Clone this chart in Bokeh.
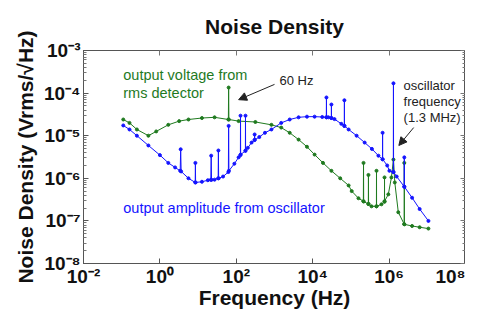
from bokeh.plotting import figure
from bokeh.models import (FixedTicker, LogAxis, Label, Arrow, NormalHead, Range1d)
from bokeh.embed import file_html
from bokeh.resources import INLINE

# ---------------- data ----------------
blue_freq = [0.11, 0.16, 0.25, 0.5, 1.0, 1.66, 2.5, 3.4, 3.5, 3.6, 5.6, 8.4, 8.5, 8.6,
             12.6, 18, 21.5, 22, 22.5, 27, 33.5, 34, 34.5, 45, 62, 63, 64, 89, 115,
             128, 129, 130, 173, 174, 175, 200, 251, 300, 302, 304, 400, 562, 832,
             1500, 2500, 4270, 7080, 11200, 17800, 22700, 22900, 23100, 25700,
             30700, 30900, 31100, 37200, 56200, 67400, 67600, 67800, 87100, 141000,
             229000, 355000, 525000, 674000, 676000, 678000, 891000, 1.02e6, 1.29e6,
             1.3e6, 1.31e6, 1.58e6, 2.48e6, 2.5e6, 2.52e6, 4.0e6, 6.3e6, 1.07e7]
blue_val = [1.74e-5, 1.4e-5, 1.0e-5, 5.9e-6, 3.5e-6, 2.3e-6, 1.8e-6, 1.5e-6, 4.8e-6, 1.45e-6,
            1.0e-6, 8.0e-7, 2.3e-6, 8.0e-7, 8.3e-7, 9.0e-7, 9.2e-7, 3.4e-6, 9.2e-7, 9.3e-7,
            1.0e-6, 4.5e-6, 1.0e-6, 1.1e-6, 1.4e-6, 1.7e-5, 1.5e-6, 2.2e-6, 3.1e-6,
            3.5e-6, 2.95e-5, 3.6e-6, 4.4e-6, 2.95e-5, 4.5e-6, 5.2e-6, 6.9e-6, 7.9e-6,
            1.07e-5, 8.0e-6, 9.3e-6, 1.17e-5, 1.4e-5, 2.0e-5, 2.4e-5, 2.7e-5, 2.8e-5,
            2.8e-5, 2.75e-5, 2.7e-5, 7.9e-5, 2.7e-5, 2.7e-5, 2.6e-5, 5.4e-5, 2.6e-5,
            2.45e-5, 1.9e-5, 1.7e-5, 6.8e-5, 1.7e-5, 1.4e-5, 1.0e-5, 6.9e-6, 4.9e-6,
            3.4e-6, 2.8e-6, 1.17e-5, 2.8e-6, 2.0e-6, 1.5e-6, 1.4e-6, 1.7e-4, 1.4e-6,
            1.1e-6, 6.4e-7, 3.1e-6, 6.3e-7, 3.5e-7, 1.9e-7, 1.0e-7]

green_freq = [0.11, 0.16, 0.25, 0.5, 0.8, 1.66, 3.2, 5.6, 12.6, 27, 62, 63, 64, 115, 316,
              832, 1500, 2500, 4270, 7080, 11200, 18600, 30900, 52500, 87100, 105000,
              158000, 212000, 214000, 216000, 286000, 288000, 290000, 347000, 466000,
              468000, 470000, 631000, 757000, 759000, 761000, 955000, 1.15e6, 1.3e6,
              1.41e6, 1.74e6, 2.48e6, 2.5e6, 2.52e6, 4.0e6, 6.3e6, 1.07e7]
green_val = [2.4e-5, 2.0e-5, 1.4e-5, 1.0e-5, 1.26e-5, 1.8e-5, 2.2e-5, 2.4e-5, 2.6e-5, 2.7e-5,
             2.4e-5, 1.35e-4, 2.4e-5, 2.2e-5, 2.1e-5, 1.8e-5, 1.55e-5, 1.17e-5, 8.1e-6,
             5.5e-6, 3.6e-6, 2.3e-6, 1.5e-6, 1.0e-6, 6.8e-7, 5.0e-7, 3.4e-7, 2.9e-7,
             2.3e-6, 2.85e-7, 2.5e-7, 1.2e-6, 2.5e-7, 2.2e-7, 2.2e-7, 1.5e-6, 2.2e-7,
             2.45e-7, 2.8e-7, 1.05e-6, 2.9e-7, 4.2e-7, 1.05e-6, 2.75e-6, 8.0e-7, 1.6e-7,
             8.4e-8, 2.3e-6, 8.3e-8, 7.6e-8, 7.1e-8, 6.6e-8]

x_tick_exps = [-2, 0, 2, 4, 6, 8]
y_tick_exps = [-8, -7, -6, -5, -4, -3]

title_text = "Noise Density"
x_label = "Frequency (Hz)"
y_label = "Noise Density (Vrms/\u221aHz)"
green_note = ["output voltage from", "rms detector"]
blue_note = "output amplitude from oscillator"
hz60_note = "60 Hz"
osc_note = ["oscillator", "frequency", "(1.3 MHz)"]

# annotation anchor points (frequency, density)
green_note_pos = [(0.11, 2.6e-4), (0.11, 1.02e-4)]
blue_note_pos = (0.11, 2.05e-7)
hz60_note_pos = (1350, 2.0e-4)
osc_note_pos = [(2.4e6, 1.5e-4), (2.4e6, 6.3e-5), (2.4e6, 2.7e-5)]
hz60_arrow = ((1000, 1.6e-4), (115, 7.0e-5))
osc_arrow = ((4.4e6, 1.55e-5), (1.8e6, 5.9e-6))

GREEN = "#1f7a1f"
BLUE = "#1414ff"
FONT = "Liberation Sans"
INK = "#111111"
AXC = "#555555"

SUP = str.maketrans("-0123456789", "\u207b\u2070\u00b9\u00b2\u00b3\u2074\u2075\u2076\u2077\u2078\u2079")

def pow_label(e):
    return "10" + str(e).translate(SUP)

# ---------------- figure ----------------
p = figure(width=465, height=311, x_axis_type="log", y_axis_type="log",
           x_range=Range1d(1e-2, 1e8), y_range=Range1d(1e-8, 1e-3),
           output_backend="svg", toolbar_location=None,
           min_border_left=0, min_border_right=0, min_border_top=0,
           min_border_bottom=0, background_fill_color="white",
           border_fill_color="white", outline_line_color=AXC)

p.title.text = title_text
p.title.align = "center"
p.title.text_font = FONT
p.title.text_font_size = "21px"
p.title.text_font_style = "bold"
p.title.text_color = INK
p.title.standoff = 25

p.xgrid.visible = False
p.ygrid.visible = False

xt_major = [10.0 ** e for e in x_tick_exps]
yt_major = [10.0 ** e for e in y_tick_exps]
yt_minor = [k * 10.0 ** e for e in y_tick_exps[:-1] for k in range(2, 10)]

def base_style(ax):
    ax.major_tick_out = 0
    ax.minor_tick_out = 0
    ax.axis_line_color = AXC
    ax.major_tick_line_color = AXC
    ax.minor_tick_line_color = "#777777"

def labelled_axis(ax, ticks, minor, exps, standoff):
    base_style(ax)
    ax.ticker = FixedTicker(ticks=ticks, minor_ticks=minor)
    ax.major_tick_in = 5
    ax.minor_tick_in = 3
    ax.major_label_standoff = standoff
    ax.major_label_overrides = {t: pow_label(e) for t, e in zip(ticks, exps)}
    ax.major_label_text_font = FONT
    ax.major_label_text_font_size = "19px"
    ax.major_label_text_font_style = "bold"
    ax.major_label_text_color = INK

def tick_only_axis(positions, length, side):
    # an axis without major ticks: its ticks are drawn as unlabelled minor ticks
    ax = LogAxis(ticker=FixedTicker(ticks=[], minor_ticks=positions))
    base_style(ax)
    ax.minor_tick_in = length
    ax.major_tick_in = 0
    ax.major_label_standoff = 0
    p.add_layout(ax, side)

bottom_ax = p.below[0]
left_ax = p.left[0]
labelled_axis(bottom_ax, xt_major, [], x_tick_exps, 2)
labelled_axis(left_ax, yt_major, yt_minor, y_tick_exps, 3)

tick_only_axis(yt_major, 5, "right")
tick_only_axis(yt_minor, 3, "right")
tick_only_axis(xt_major, 5, "above")

# a leading empty line moves each axis title a little away from the tick labels
for ax, lab, standoff in [(bottom_ax, x_label, -14), (left_ax, y_label, 4)]:
    ax.axis_label = "\n" + lab
    ax.axis_label_text_line_height = 0.45
    ax.axis_label_text_font = FONT
    ax.axis_label_text_font_size = "21px"
    ax.axis_label_text_font_style = "bold"
    ax.axis_label_text_color = INK
    ax.axis_label_standoff = standoff

# ---------------- series ----------------
p.line(green_freq, green_val, line_color=GREEN, line_width=1)
p.scatter(green_freq, green_val, size=3, fill_color=GREEN, line_color=GREEN)
p.line(blue_freq, blue_val, line_color=BLUE, line_width=1)
p.scatter(blue_freq, blue_val, size=3, fill_color=BLUE, line_color=BLUE)

# ---------------- annotations ----------------
def note(txt, pos, color, size):
    p.add_layout(Label(x=pos[0], y=pos[1], text=txt, text_color=color,
                       text_font=FONT, text_font_size=size,
                       text_align="left", text_baseline="middle"))

for t, pos in zip(green_note, green_note_pos):
    note(t, pos, GREEN, "14.5px")
note(blue_note, blue_note_pos, BLUE, "14.5px")
note(hz60_note, hz60_note_pos, "#222222", "13px")
for t, pos in zip(osc_note, osc_note_pos):
    note(t, pos, "#222222", "13px")

for (s, e) in [hz60_arrow, osc_arrow]:
    p.add_layout(Arrow(x_start=s[0], y_start=s[1], x_end=e[0], y_end=e[1],
                       line_color="#222222", line_width=1,
                       end=NormalHead(size=8, fill_color="#222222",
                                      line_color="#222222")))

open("out.html", "w").write(file_html(p, INLINE))
